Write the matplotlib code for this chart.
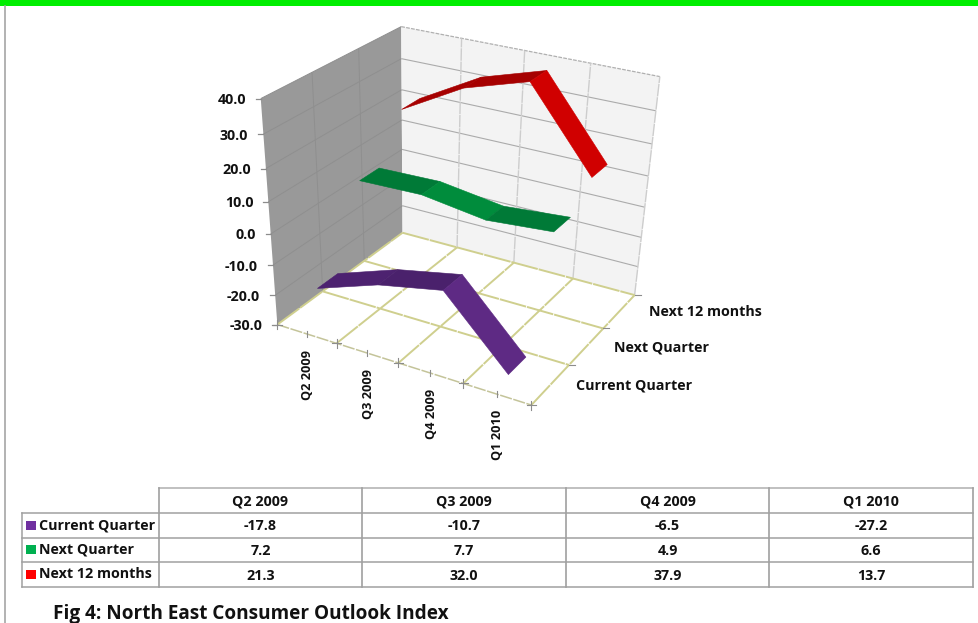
import numpy as np
import matplotlib
matplotlib.use('Agg')
import matplotlib.pyplot as plt
from matplotlib.patches import Polygon, Rectangle

### ============= data =======================
quarters = ['Q2 2009', 'Q3 2009', 'Q4 2009', 'Q1 2010']
series_names = ['Current Quarter', 'Next Quarter', 'Next 12 months']
current_quarter = [-17.8, -10.7, -6.5, -27.2]
next_quarter = [7.2, 7.7, 4.9, 6.6]
next_12_months = [21.3, 32.0, 37.9, 13.7]
value_ticks = [-30, -20, -10, 0, 10, 20, 30, 40]
caption = 'Fig 4: North East Consumer Outlook Index'

series_vals = [current_quarter, next_quarter, next_12_months]
legend_cols = ['#7030a0', '#00b050', '#ff0000']
# shade of each ribbon segment
seg_cols = [['#4d2270', '#4a216c', '#5e2a84'],
            ['#007a37', '#008c3c', '#007a37'],
            ['#a60000', '#a60000', '#d00000']]

plt.rcParams['font.family'] = ['Open Sans', 'DejaVu Sans']
plt.rcParams['font.weight'] = 'bold'
txt = '#111111'
fs = 10.3

### ============= 3D box projection =======================
## box coords (u along quarters, d along depth, w up) -> pixel position
box_refs = [((0, 0, 0), (277, 325)), ((1, 0, 0), (537, 404)),
            ((1, 1, 0), (633, 296)), ((0, 1, 0), (405, 233)),
            ((0, 0, 1), (262, 100)), ((0, 1, 1), (400, 25)),
            ((1, 1, 1), (660, 77)), ((.25, 0, 0), (336, 343)),
            ((.5, 0, 0), (396, 363)), ((.75, 0, 0), (460, 383))]

def fit_projection(refs):
    A, b = [], []
    for (u, d, w), (px, py) in refs:
        A.append([u, d, w, 1, 0, 0, 0, 0, -px*u, -px*d, -px*w])
        A.append([0, 0, 0, 0, u, d, w, 1, -py*u, -py*d, -py*w])
        b += [px, py]
    p = np.linalg.lstsq(np.array(A, dtype=float), np.array(b, dtype=float), rcond=None)[0]
    return np.append(p, 1.0).reshape(3, 4)

P = fit_projection(box_refs)
vmin, vmax = value_ticks[0], value_ticks[-1]

def proj(u, d, w):
    x, y, s = P @ np.array([u, d, w, 1.0])
    return x/s, y/s

def proj_val(i, d, v):
    ## i = quarter position, v = value on the chart scale
    return proj((i + 0.5)/len(quarters), d, (v - vmin)/(vmax - vmin))

fig = plt.figure(figsize=(9.79, 6.23), dpi=100)
ax = fig.add_axes([0, 0, 1, 1])
ax.set_xlim(0, 979)
ax.set_ylim(623, 0)
ax.axis('off')

## page furniture
ax.add_patch(Rectangle((0, 0), 979, 6, fc='#00ee00', ec='none'))
ax.plot([5.5, 5.5], [6, 623], c='#a6a6a6', lw=1.2)

## walls
ax.add_patch(Polygon([proj(0, 0, 0), proj(0, 1, 0), proj(0, 1, 1), proj(0, 0, 1)],
                     fc='#999999', ec='none', zorder=1))
ax.add_patch(Polygon([proj(0, 1, 0), proj(1, 1, 0), proj(1, 1, 1), proj(0, 1, 1)],
                     fc='#f3f3f3', ec='none', zorder=1))

def line3d(a, b, **kw):
    pa, pb = proj(*a), proj(*b)
    ax.plot([pa[0], pb[0]], [pa[1], pb[1]], solid_capstyle='butt', **kw)

## value gridlines on both walls
for v in value_ticks:
    w = (v - vmin)/(vmax - vmin)
    if v > vmin:
        line3d((0, 0, w), (0, 1, w), c='#8f8f8f', lw=0.7, zorder=2)
    if v == vmax:
        line3d((0, 1, w), (1, 1, w), c='#b0b0b0', lw=0.9, ls=(0, (3, 1)), zorder=2)
    elif v > vmin:
        line3d((0, 1, w), (1, 1, w), c='#ababab', lw=0.8, zorder=2)
    ## value axis tick and label
    x, y = proj(0, 0, w)
    ax.plot([x-5, x], [y, y], c='#8c8c8c', lw=0.9, zorder=2)
    ax.text(x-15, y+1.5, '{:.1f}'.format(v), ha='right', va='center', fontsize=fs, color=txt)

## verticals on the walls
n_q, n_s = len(quarters), len(series_names)
for i in range(1, n_q + 1):
    line3d((i/n_q, 1, 0), (i/n_q, 1, 1), c='#cdcdcd', lw=1.0, ls=(0, (9, 0.6)), zorder=2)
for j in range(1, n_s):
    line3d((0, j/n_s, 0), (0, j/n_s, 1), c='#8f8f8f', lw=0.7, zorder=2)

## floor grid
floor_col = '#cfcf8e'
for i in range(0, n_q + 1):
    line3d((i/n_q, 0, 0), (i/n_q, 1, 0), c=floor_col, lw=1.4, ls=(0, (14, 0.5)), zorder=2)
for j in range(1, n_s + 1):
    line3d((0, j/n_s, 0), (1, j/n_s, 0), c=floor_col, lw=1.4, ls=(0, (14, 0.5)), zorder=2)
line3d((0, 0, 0), (1, 0, 0), c='#c4c49a', lw=1.1, ls=(0, (8, 1)), zorder=2)

## ticks on floor edges
for k in range(0, 2*n_q + 1):
    x, y = proj(k/(2*n_q), 0, 0)
    size = 4.5 if k % 2 == 0 else 3
    ax.plot([x, x], [y-size, y+size], c='#8c8c8c', lw=0.8, zorder=3)
    if k % 2 == 0:
        ax.plot([x-size, x+size], [y, y], c='#8c8c8c', lw=0.8, zorder=3)
for j in range(1, n_s + 1):
    x, y = proj(1, j/n_s, 0)
    ax.plot([x, x+6], [y, y], c='#8c8c8c', lw=0.8, zorder=3)

## the ribbons, back one first
half = 0.075
for s in range(n_s - 1, -1, -1):
    d = (s + 0.5)/n_s
    vals = series_vals[s]
    for i in range(n_q - 1):
        pts = [proj_val(i, d - half, vals[i]), proj_val(i, d + half, vals[i]),
               proj_val(i + 1, d + half, vals[i + 1]), proj_val(i + 1, d - half, vals[i + 1])]
        ax.add_patch(Polygon(pts, fc=seg_cols[s][i], ec=seg_cols[s][i], lw=0.4, zorder=5 + i))

## axis labels
for i, q in enumerate(quarters):
    x, y = proj_val(i, 0, vmin)
    ax.text(x + 1, y + 16, q, rotation=90, ha='center', va='top', fontsize=9.2, color=txt)
for s, name in enumerate(series_names):
    x, y = proj(1, (s + 0.5)/n_s, 0)
    ax.text(x + 25 + 2.5*s, y + 1, name, ha='left', va='center', fontsize=fs, color=txt)

### ============= data table =======================
col_x = [159, 362, 566, 769, 973]
row_y = [488, 513, 538, 562, 587]
grid = '#a0a0a0'
ax.plot([col_x[0], col_x[-1]], [row_y[0], row_y[0]], c='#b5b5b5', lw=1.2)
for y in row_y[1:]:
    ax.plot([22, col_x[-1]], [y, y], c=grid, lw=1.1)
for x in col_x:
    ax.plot([x, x], [row_y[0], row_y[-1]], c=grid, lw=1.2)
ax.plot([22, 22], [row_y[1], row_y[-1]], c=grid, lw=1.1)

for c, q in enumerate(quarters):
    xc = (col_x[c] + col_x[c + 1])/2
    ax.text(xc, (row_y[0] + row_y[1])/2 + 1, q, ha='center', va='center', fontsize=fs, color=txt)
    for s in range(n_s):
        ax.text(xc, (row_y[s + 1] + row_y[s + 2])/2 + 1, '{:.1f}'.format(series_vals[s][c]),
                ha='center', va='center', fontsize=fs, color=txt)
for s, name in enumerate(series_names):
    yc = (row_y[s + 1] + row_y[s + 2])/2
    ax.add_patch(Rectangle((26, yc - 5), 10, 9, fc=legend_cols[s], ec='none'))
    ax.text(39, yc, name, ha='left', va='center', fontsize=fs, color=txt)

ax.text(53, 614, caption, ha='left', va='center', fontsize=13.7, color=txt)

fig.savefig('out.png', dpi=100)
